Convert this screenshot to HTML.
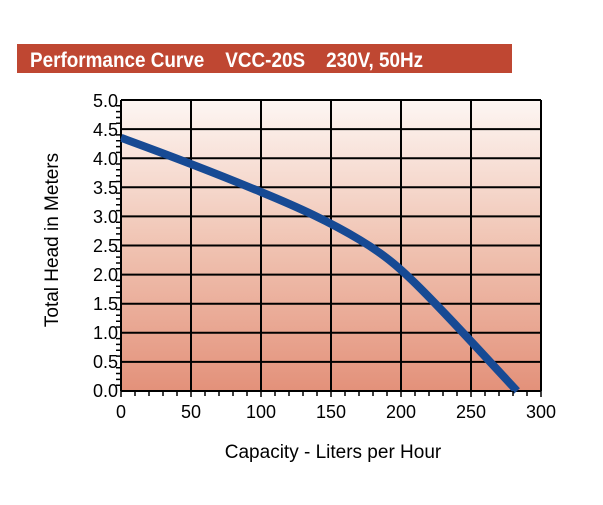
<!DOCTYPE html>
<html><head><style>body{margin:0;background:#fff;width:603px;height:500px;overflow:hidden}</style></head>
<body>
<svg width="603" height="500" xmlns="http://www.w3.org/2000/svg" font-family="Liberation Sans, sans-serif">
<defs><linearGradient id="g" x1="0" y1="0" x2="0" y2="1"><stop offset="0" stop-color="#fdf6f3"/><stop offset="0.5" stop-color="#f0c3b2"/><stop offset="1" stop-color="#e3917a"/></linearGradient></defs>
<rect x="17" y="44" width="495" height="29" fill="#bf4732"/>
<text x="30" y="67" fill="#fff" font-size="21" font-weight="bold" transform="translate(30 0) scale(0.9,1) translate(-30 0)">Performance Curve&#160;&#160;&#160; VCC-20S&#160;&#160;&#160; 230V, 50Hz</text>
<rect x="121" y="100" width="420" height="291" fill="url(#g)"/>
<g stroke="#000" stroke-width="2">
<path d="M121 100H541M121 129.1H541M121 158.2H541M121 187.3H541M121 216.4H541M121 245.5H541M121 274.6H541M121 303.7H541M121 332.8H541M121 361.9H541M121 391H541"/>
<path d="M121 100V391M191 100V391M261 100V391M331 100V391M401 100V391M471 100V391M541 100V391"/>
</g>
<path d="M121 137.8 C160 152 220 175 261 192 C300 208 330 222 360 240 C385 255 400 268 420 288 C445 313 470 340 517 391" fill="none" stroke="#174a94" stroke-width="8" stroke-linecap="butt"/>
<g font-size="18" fill="#000" text-anchor="end">
<text x="118" y="107">5.0</text><text x="118" y="136">4.5</text><text x="118" y="165">4.0</text><text x="118" y="194">3.5</text><text x="118" y="223">3.0</text><text x="118" y="252">2.5</text><text x="118" y="281">2.0</text><text x="118" y="310">1.5</text><text x="118" y="339">1.0</text><text x="118" y="368">0.5</text><text x="118" y="397">0.0</text>
</g>
<g font-size="18" fill="#000" text-anchor="middle">
<text x="121" y="418">0</text><text x="191" y="418">50</text><text x="261" y="418">100</text><text x="331" y="418">150</text><text x="401" y="418">200</text><text x="471" y="418">250</text><text x="541" y="418">300</text>
<text x="333" y="458" font-size="19">Capacity - Liters per Hour</text>
</g>
<text transform="translate(58,240) rotate(-90)" font-size="19" text-anchor="middle">Total Head in Meters</text>
<g stroke="#000" stroke-width="1.5">
<path d="M121 391v6M135 391v5M149 391v5M163 391v5M177 391v5M191 391v6M205 391v5M219 391v5M233 391v5M247 391v5M261 391v6M275 391v5M289 391v5M303 391v5M317 391v5M331 391v6M345 391v5M359 391v5M373 391v5M387 391v5M401 391v6M415 391v5M429 391v5M443 391v5M457 391v5M471 391v6M485 391v5M499 391v5M513 391v5M527 391v5M541 391v6"/>
<path d="M116 105.8h5M116 111.6h5M116 117.5h5M116 123.3h5M116 134.9h5M116 140.7h5M116 146.6h5M116 152.4h5M116 164h5M116 169.8h5M116 175.7h5M116 181.5h5M116 193.1h5M116 198.9h5M116 204.8h5M116 210.6h5M116 222.2h5M116 228h5M116 233.9h5M116 239.7h5M116 251.3h5M116 257.1h5M116 263h5M116 268.8h5M116 280.4h5M116 286.2h5M116 292.1h5M116 297.9h5M116 309.5h5M116 315.3h5M116 321.2h5M116 327h5M116 338.6h5M116 344.4h5M116 350.3h5M116 356.1h5M116 367.7h5M116 373.5h5M116 379.4h5M116 385.2h5"/>
</g>
</svg>
</body></html>
